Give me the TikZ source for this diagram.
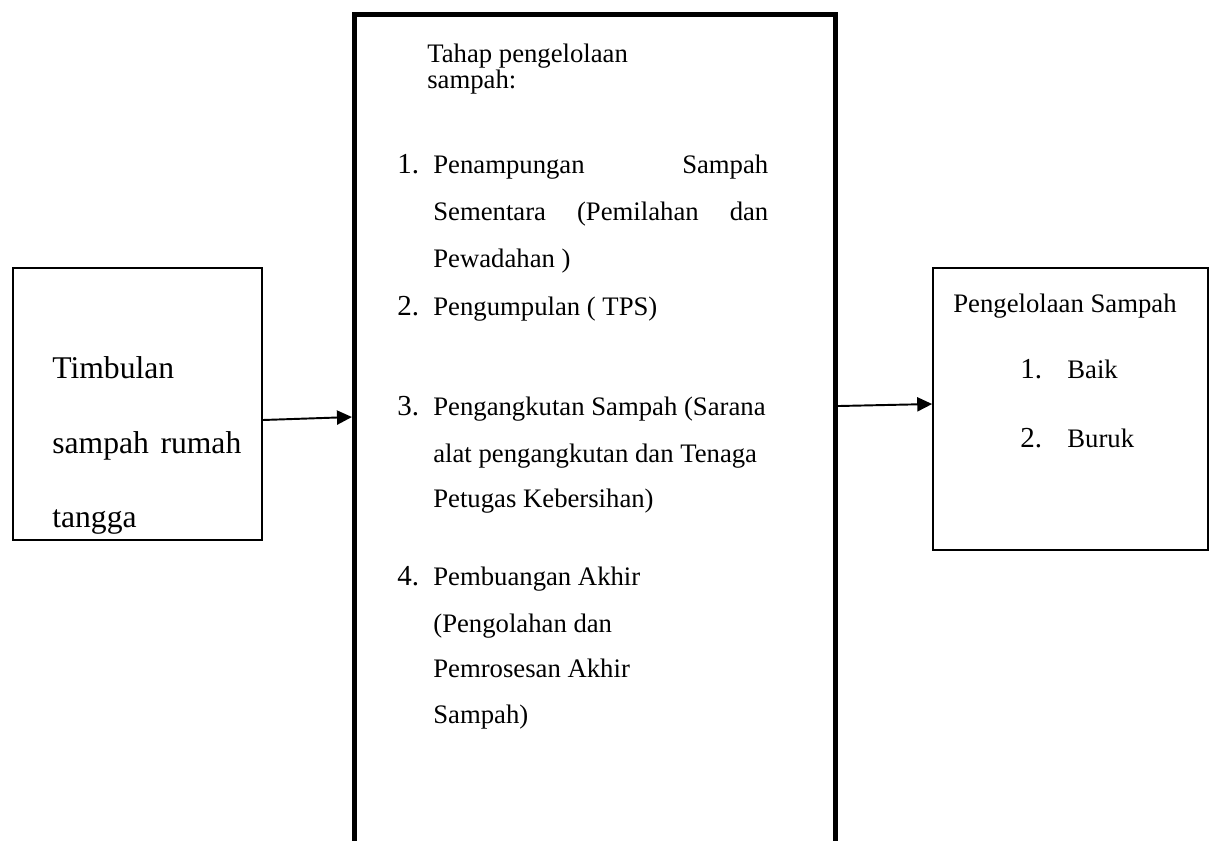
\documentclass[tikz,border=0pt]{standalone}
\usepackage{fontspec}
\setmainfont{Liberation Serif}
\usepackage{tikz}
\usetikzlibrary{arrows.meta}
\newcommand{\bodytext}{\fontsize{15.2}{18}\selectfont}
\newcommand{\bigtext}{\fontsize{18}{22}\selectfont}
\newcommand{\numtext}{\fontsize{16.5}{20}\selectfont}

\begin{document}
\begin{tikzpicture}[
        x=0.02cm, y=-0.02cm,
        sidebox/.style={rectangle, draw=black, line width=1pt},
        mainbox/.style={rectangle, draw=black, line width=3pt},
        txt/.style={anchor=base west, inner sep=0pt, font=\bodytext},
        just/.style={txt, text width=6.7cm, align=left},
        num/.style={anchor=base west, inner sep=0pt, font=\numtext},
        big/.style={anchor=base west, inner sep=0pt, font=\bigtext},
        arrow/.style={-{Triangle[length=8.5pt, width=8pt]}, line width=1.1pt, color=black}
    ]
        \useasboundingbox (0,0) rectangle (1216,840);
        \clip (0,0) rectangle (1216,840);

        % Boxes
        \node[sidebox, minimum width=4.98cm, minimum height=5.44cm] (timb) at (137.5, 404) {};
        \node[mainbox, minimum width=9.62cm, minimum height=17.8cm] (tahap) at (595, 459.5) {};
        \node[sidebox, minimum width=5.5cm, minimum height=5.64cm] (hasil) at (1070.5, 409) {};

        % Left box text
        \node[big] (b1) at (52, 378) {Timbulan};
        \node[big, text width=3.78cm, align=left] (b2) at (52, 453) {sampah\hfill rumah};
        \node[big] (b3) at (52, 527) {tangga};

        % Middle box text
        \node[txt] (h1) at (427, 62) {Tahap pengelolaan};
        \node[txt] (h2) at (427, 88) {sampah:};

        \node[num] (n1) at (397, 173) {1.};
        \node[just] (l1) at (433, 173) {Penampungan\hfill Sampah};
        \node[just] (l2) at (433, 220) {Sementara\hfill (Pemilahan\hfill dan};
        \node[txt] (l3) at (433, 267) {Pewadahan )};

        \node[num] (n2) at (397, 315) {2.};
        \node[txt] (l4) at (433, 315) {Pengumpulan ( TPS)};

        \node[num] (n3) at (397, 415) {3.};
        \node[txt] (l5) at (433, 415) {Pengangkutan Sampah (Sarana};
        \node[txt] (l6) at (433, 462) {alat pengangkutan dan Tenaga};
        \node[txt] (l7) at (433, 507) {Petugas Kebersihan)};

        \node[num] (n4) at (397, 585) {4.};
        \node[txt] (l8) at (433, 585) {Pembuangan Akhir};
        \node[txt] (l9) at (433, 632) {(Pengolahan dan};
        \node[txt] (l10) at (433, 677) {Pemrosesan Akhir};
        \node[txt] (l11) at (433, 723) {Sampah)};

        % Right box text
        \node[txt] (r0) at (953, 312) {Pengelolaan Sampah};
        \node[num] (rn1) at (1020, 378) {1.};
        \node[txt] (r1) at (1067, 378) {Baik};
        \node[num] (rn2) at (1020, 447) {2.};
        \node[txt] (r2) at (1067, 447) {Buruk};

        % Connections
        \draw[arrow] ([yshift=-0.32cm]timb.east) -- ([yshift=0.85cm]tahap.west);
        \draw[arrow] ([yshift=1.07cm]tahap.east) -- ([yshift=0.1cm]hasil.west);
    \end{tikzpicture}
\end{document}
